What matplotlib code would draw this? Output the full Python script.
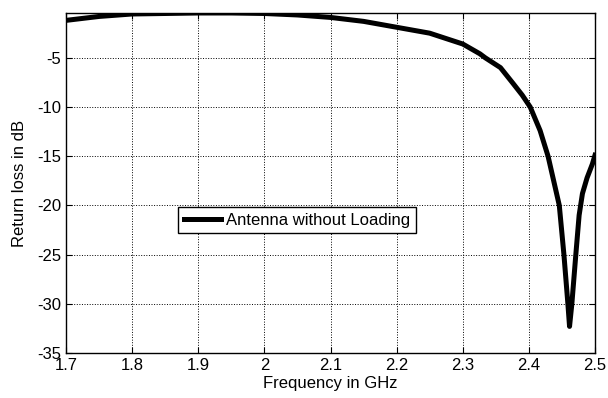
import numpy as np
import matplotlib.pyplot as plt

# return loss
freq_ghz = [1.70, 1.75, 1.80, 1.85, 1.90, 1.95, 2.00, 2.05, 2.10, 2.15, 2.20,
            2.25, 2.30, 2.326, 2.334, 2.357, 2.376, 2.39, 2.402, 2.417, 2.429,
            2.446, 2.453, 2.459, 2.4615, 2.465, 2.471, 2.476, 2.481, 2.488, 2.496, 2.50]
return_loss_db = [-1.2, -0.8, -0.55, -0.5, -0.45, -0.45, -0.5, -0.65, -0.9, -1.3, -1.9,
                  -2.5, -3.6, -4.6, -5.0, -6.0, -7.6, -8.8, -10.0, -12.4, -15.0,
                  -20.0, -25.0, -30.0, -32.3, -30.0, -25.0, -21.0, -18.8, -17.2, -15.8, -14.9]
x_ticks = [1.7, 1.8, 1.9, 2.0, 2.1, 2.2, 2.3, 2.4, 2.5]
x_tick_labels = ['1.7', '1.8', '1.9', '2', '2.1', '2.2', '2.3', '2.4', '2.5']
y_ticks = [-35, -30, -25, -20, -15, -10, -5]

plt.rcParams['font.family'] = ['Liberation Sans', 'DejaVu Sans']
plt.rcParams['axes.unicode_minus'] = False

fig = plt.figure(figsize=(6.08, 3.98), dpi=100)
ax = fig.add_axes([66 / 608, 45 / 398, 529 / 608, 340 / 398])

ax.plot(freq_ghz, return_loss_db, color='black', linewidth=3.6,
        label='Antenna without Loading')

ax.set_xlim(1.7, 2.5)
ax.set_ylim(-35, -0.45)
ax.set_xticks(x_ticks)
ax.set_xticklabels(x_tick_labels)
ax.set_yticks(y_ticks)
ax.tick_params(direction='in', top=True, right=True, labelsize=12, length=4, pad=3.5)
ax.grid(True, linestyle=':', color='black', linewidth=0.7)
for s in ax.spines.values():
    s.set_linewidth(1.0)

ax.set_xlabel('Frequency in GHz', fontsize=12, labelpad=2)
ax.set_ylabel('Return loss in dB', fontsize=12, labelpad=7)

leg = ax.legend(loc='center', bbox_to_anchor=(0.437, 0.391), fontsize=12,
                fancybox=False, framealpha=1, edgecolor='black', handlelength=2.2,
                handletextpad=0.3, borderpad=0.35, borderaxespad=0)
leg.get_frame().set_linewidth(1.0)

fig.savefig('out.png', dpi=100)
